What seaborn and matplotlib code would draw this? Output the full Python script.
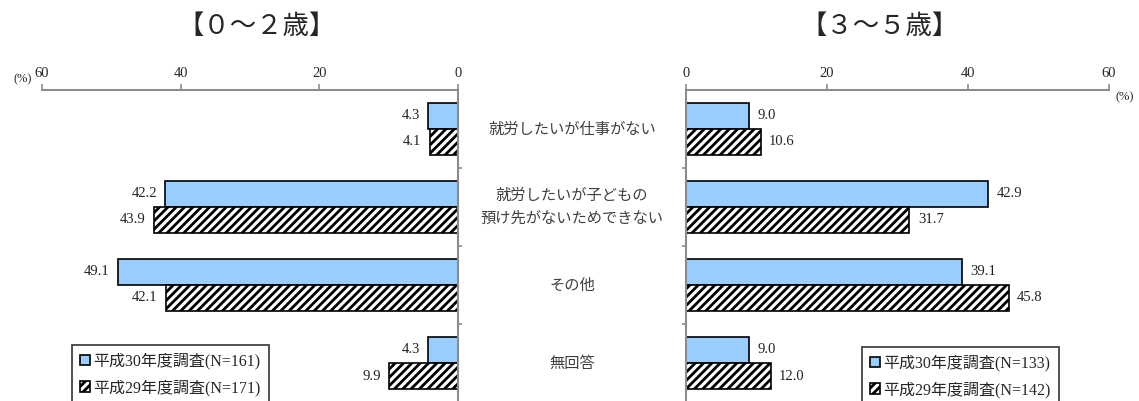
import pandas as pd
import seaborn as sns
import matplotlib.pyplot as plt
from matplotlib.ticker import FixedLocator

categories = ['就労したいが仕事がない',
              '就労したいが子どもの\n預け先がないためできない',
              'その他',
              '無回答']
surveys_02 = ['平成30年度調査(N=161)', '平成29年度調査(N=171)']
surveys_35 = ['平成30年度調査(N=133)', '平成29年度調査(N=142)']

h30_02 = [4.3, 42.2, 49.1, 4.3]
h29_02 = [4.1, 43.9, 42.1, 9.9]
h30_35 = [9.0, 42.9, 39.1, 9.0]
h29_35 = [10.6, 31.7, 45.8, 12.0]

x_ticks = [0, 20, 40, 60]

BLUE = '#99CCFF'
GRAY = '#8c8c8c'
JP = ['Liberation Serif', 'Noto Sans CJK JP']

sns.set_style('white')
plt.rcParams['font.family'] = ['Liberation Serif', 'Noto Sans CJK JP', 'DejaVu Sans']
plt.rcParams['hatch.linewidth'] = 2.0


def make_frame(h30, h29, names):
    rows = []
    for cat, a, b in zip(categories, h30, h29):
        rows.append({'category': cat, 'value': a, 'survey': names[0]})
        rows.append({'category': cat, 'value': b, 'survey': names[1]})
    return pd.DataFrame(rows)


def draw_panel(ax, df, names, side):
    sns.barplot(data=df, x='value', y='category', hue='survey', hue_order=names,
                order=categories, orient='h', ax=ax, palette=[BLUE, 'white'],
                saturation=1, edgecolor='black', linewidth=1.2, width=2 / 3,
                legend=False)
    for bar in ax.containers[1]:
        bar.set_hatch('////')

    ax.set_xlim(0, 60)
    ax.set_ylim(3.5, -0.5)
    if side == 'left':
        ax.invert_xaxis()

    # value labels just beyond each bar end
    off = -6 if side == 'left' else 6
    ha = 'right' if side == 'left' else 'left'
    for cont in ax.containers:
        for bar in cont:
            ax.annotate(f'{bar.get_width():.1f}',
                        (bar.get_width(), bar.get_y() + bar.get_height() / 2),
                        xytext=(off, 0), textcoords='offset points',
                        ha=ha, va='center', fontsize=10.5,
                        family='Liberation Serif', color='#222222')

    ax.xaxis.tick_top()
    ax.xaxis.set_major_locator(FixedLocator(x_ticks))
    ax.tick_params(axis='x', direction='out', length=4, color=GRAY, width=1.2,
                   labelsize=10.5, pad=3)
    ax.set_yticks([])
    ax.yaxis.set_minor_locator(FixedLocator([0.5, 1.5, 2.5]))
    ax.tick_params(axis='y', which='minor', direction='out', length=3,
                   color=GRAY, width=1.2, left=(side == 'right'),
                   right=(side == 'left'))
    if side == 'left':
        ax.yaxis.set_ticks_position('right')
    ax.set_xlabel('')
    ax.set_ylabel('')
    for sp in ax.spines.values():
        sp.set_color(GRAY)
        sp.set_linewidth(1.5)
        sp.set_visible(False)
    ax.spines['top'].set_visible(True)
    ax.spines['right' if side == 'left' else 'left'].set_visible(True)


fig = plt.figure(figsize=(11.39, 4.01), dpi=100)
ax1 = fig.add_axes([42 / 1139, -0.0025, (458 - 42) / 1139, 0.7781])
ax2 = fig.add_axes([686 / 1139, -0.0025, (1109 - 686) / 1139, 0.7781])

draw_panel(ax1, make_frame(h30_02, h29_02, surveys_02), surveys_02, 'left')
draw_panel(ax2, make_frame(h30_35, h29_35, surveys_35), surveys_35, 'right')

# category labels between the panels
for i, cat in enumerate(categories):
    y = ax1.transData.transform((0, i))[1]
    fig.text(572 / 1139, fig.transFigure.inverted().transform((0, y))[1], cat,
             ha='center', va='center', fontsize=11, family='Noto Sans CJK JP',
             color='#404040', linespacing=1.45)

fig.text(257 / 1139, 0.935, '【０～２歳】', ha='center', va='center',
         fontsize=19, family='Noto Sans CJK JP')
fig.text(880 / 1139, 0.935, '【３～５歳】', ha='center', va='center',
         fontsize=19, family='Noto Sans CJK JP')
fig.text(13 / 1139, (401 - 79) / 401, '(%)', ha='left', va='center', fontsize=9)
fig.text(1116 / 1139, (401 - 97) / 401, '(%)', ha='left', va='center', fontsize=9)

# legends
for ax, names, anchor in [(ax1, surveys_02, (72 / 1139, 56 / 401)),
                          (ax2, surveys_35, (862 / 1139, 54 / 401))]:
    handles = [ax.containers[0].patches[0], ax.containers[1].patches[0]]
    leg = fig.legend(handles, names, loc='upper left', bbox_to_anchor=anchor,
                     frameon=True, fancybox=False, edgecolor='black',
                     handlelength=0.6, handleheight=0.6, handletextpad=0.25,
                     labelspacing=0.6, borderpad=0.5, borderaxespad=0,
                     prop={'family': JP, 'size': 11.5})
    leg.get_frame().set_linewidth(1.2)

fig.savefig('out.png', dpi=100)
